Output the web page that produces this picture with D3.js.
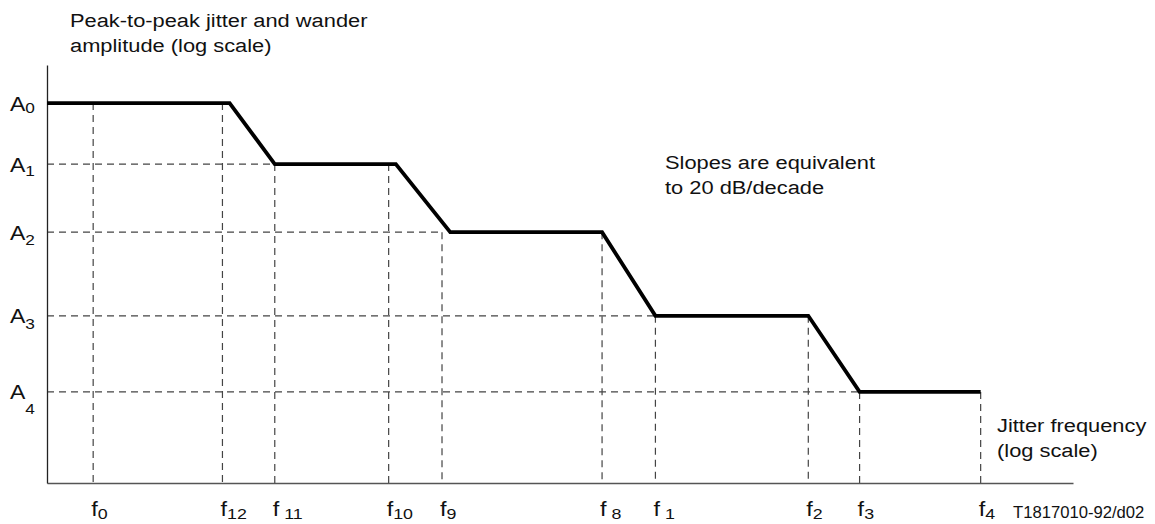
<!DOCTYPE html>
<html>
<head>
<meta charset="utf-8">
<script src="https://cdn.jsdelivr.net/npm/d3@7"></script>
<style>
  html, body { margin: 0; padding: 0; background: #fff; }
  svg { display: block; font-family: "Liberation Sans", Arial, sans-serif; }
</style>
</head>
<body>
<div id="chart"></div>
<script>
/* ---------- Data (relative log units, 0 = axis origin) ---------- */
const ampSubs   = ["0", "1", "2", "3", "4"];
const ampLevels = [90.9, 76.3, 60.0, 40.0, 21.8];

const freqSubs   = ["0", "12", " 11", "10", "9", " 8", " 1", "2", "3", "4"];
const freqValues = [4.5, 17.1, 22.2, 33.3, 38.5, 54.1, 59.3, 74.2, 79.2, 91.0];
const freqLevel  = [0, 0, 1, 1, 2, 2, 3, 3, 4, 4];      // amplitude index each guide rises to
const ampGuideTo = [null, 2, 4, 6, 8];                  // freq index where each A guide stops

// mask template breakpoints
const curveF = [0, 17.8, 22.2, 34.0, 39.3, 54.1, 59.3, 74.2, 79.2, 91.0];
const curveA = [90.9, 90.9, 76.3, 76.3, 60.0, 60.0, 40.0, 40.0, 21.8, 21.8];

const yTitle   = ["Peak-to-peak jitter and wander", "amplitude (log scale)"];
const xTitle   = ["Jitter frequency", "(log scale)"];
const slopeTxt = ["Slopes are equivalent", "to 20 dB/decade"];
const figRef   = "T1817010-92/d02";

/* ---------- Layout ---------- */
const W = 1155, H = 524;
const SX = 1.15;               // horizontal stretch of the lettering
const ampSubDy = [2.5, 4, 5, 5.5, 15];

const svg = d3.select("#chart").append("svg")
  .attr("width", W).attr("height", H)
  .attr("viewBox", `0 0 ${W} ${H}`);

const x = d3.scaleLinear().domain([0, 100]).range([47, 1073]);
const y = d3.scaleLinear().domain([0, 100]).range([483, 65]);

function stext(x0, y0, sx = SX){
  return svg.append("text")
    .attr("transform", `translate(${x0},${y0}) scale(${sx},1)`)
    .attr("fill", "#111");
}

/* ---------- Guides ---------- */
const guides = svg.append("g")
  .attr("fill", "none")
  .attr("stroke", "#444")
  .attr("stroke-width", 1.2)
  .attr("stroke-dasharray", "7,5");

guides.selectAll("line.v")
  .data(freqValues)
  .join("line")
    .attr("class", "v")
    .attr("x1", d => x(d)).attr("x2", d => x(d))
    .attr("y1", (d, i) => y(ampLevels[freqLevel[i]]))
    .attr("y2", y(0));

guides.selectAll("line.h")
  .data(ampLevels.map((a, i) => ({a, to: ampGuideTo[i]})).filter(d => d.to != null))
  .join("line")
    .attr("class", "h")
    .attr("x1", x(0))
    .attr("x2", d => x(freqValues[d.to]))
    .attr("y1", d => y(d.a)).attr("y2", d => y(d.a));

/* ---------- Axes (no ticks, domain lines only) ---------- */
svg.append("g")
  .attr("transform", `translate(0,${y(0)})`)
  .call(d3.axisBottom(x).tickValues([]).tickSizeOuter(0))
  .select(".domain").attr("stroke", "#555").attr("stroke-width", 1.4);

svg.append("g")
  .attr("transform", `translate(${x(0)},0)`)
  .call(d3.axisLeft(y).tickValues([]).tickSizeOuter(0))
  .select(".domain").attr("stroke", "#222").attr("stroke-width", 1.3);

/* ---------- Mask curve ---------- */
const line = d3.line().x(d => x(d[0])).y(d => y(d[1]));
svg.append("path")
  .datum(curveF.map((f, i) => [f, curveA[i]]))
  .attr("d", line)
  .attr("fill", "none")
  .attr("stroke", "#000")
  .attr("stroke-width", 3.8)
  .attr("stroke-linejoin", "miter");

/* ---------- Labels ---------- */
ampLevels.forEach((a, i) => {
  const t = stext(10, y(a) + 7.5).attr("font-size", 20);
  t.append("tspan").text("A");
  t.append("tspan").attr("font-size", 15).attr("dy", ampSubDy[i]).text(ampSubs[i]);
});

freqValues.forEach((f, i) => {
  const t = stext(x(f) - 2, 516).attr("font-size", 20.5);
  t.append("tspan").text("f");
  t.append("tspan").attr("font-size", 15.5).attr("dy", 3).text(freqSubs[i]);
});

yTitle.forEach((s, i) => stext(70, 27 + i * 25).attr("font-size", 19).text(s));
slopeTxt.forEach((s, i) => stext(665, 169 + i * 25).attr("font-size", 19).text(s));
xTitle.forEach((s, i) => stext(997, 432 + i * 25).attr("font-size", 19).text(s));
stext(1013, 518, 1.04).attr("font-size", 16).text(figRef);
</script>
</body>
</html>
